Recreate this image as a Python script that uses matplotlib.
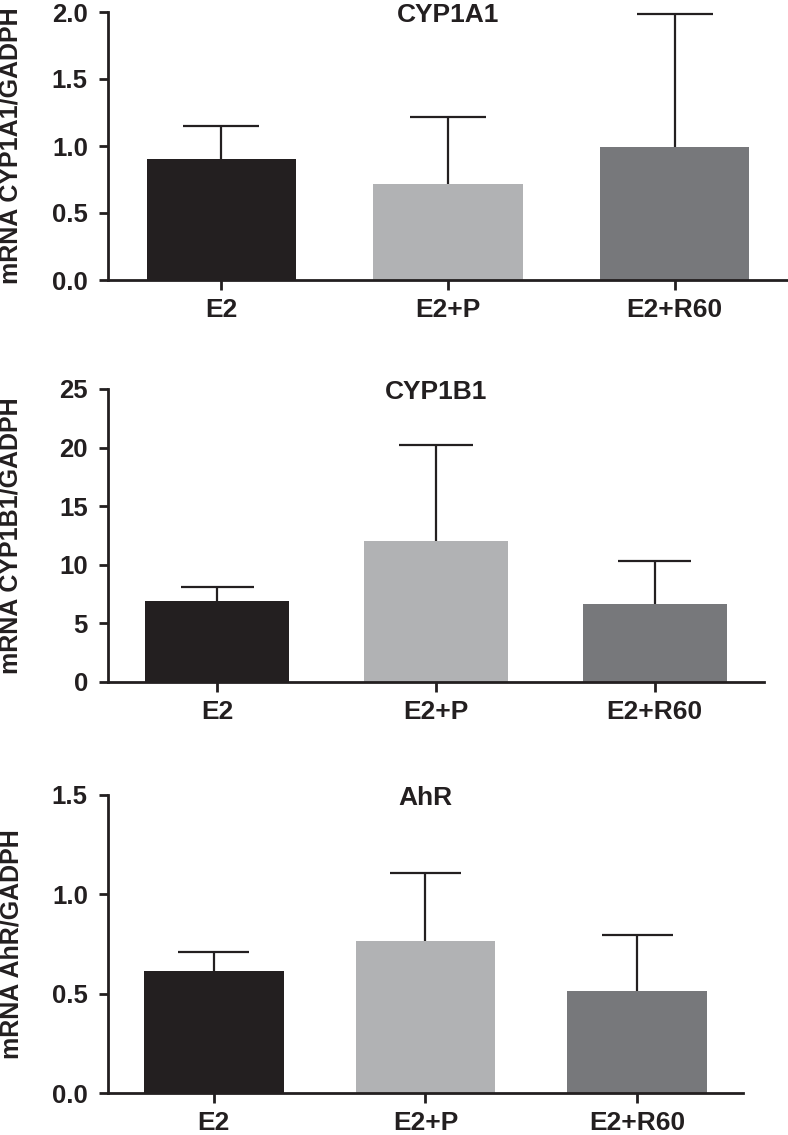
import matplotlib
matplotlib.use("Agg")
import matplotlib.pyplot as plt
import numpy as np

plt.rcParams['font.family'] = ['Liberation Sans', 'DejaVu Sans']
plt.rcParams['font.weight'] = 'bold'

groups = ["E2", "E2+P", "E2+R60"]
bar_colors = ["#231f20", "#b1b2b4", "#77787b"]
ink = "#231f20"

titles = ["CYP1A1", "CYP1B1", "AhR"]
ylabels = ["mRNA CYP1A1/GADPH", "mRNA CYP1B1/GADPH", "mRNA AhR/GADPH"]

cyp1a1_mean = [0.90, 0.72, 0.995]
cyp1a1_err = [0.25, 0.50, 0.99]
cyp1b1_mean = [6.92, 12.0, 6.64]
cyp1b1_err = [1.18, 8.2, 3.66]
ahr_mean = [0.616, 0.767, 0.514]
ahr_err = [0.094, 0.342, 0.282]

ylims = [(0, 2.0), (0, 25), (0, 1.5)]
yticks = [[0.0, 0.5, 1.0, 1.5, 2.0], [0, 5, 10, 15, 20, 25], [0.0, 0.5, 1.0, 1.5]]
yfmt = ["{:.1f}", "{:.0f}", "{:.1f}"]

means = [cyp1a1_mean, cyp1b1_mean, ahr_mean]
errs = [cyp1a1_err, cyp1b1_err, ahr_err]

W, H = 788, 1135
# axes boxes in pixels: left, top, right, bottom
boxes = [(108, 12, 788, 280), (108, 389, 764, 681.7), (108, 795, 743, 1093.3)]
bar_w = 0.66
cap_half = 0.167

fig = plt.figure(figsize=(W / 100, H / 100), dpi=100)
x = np.arange(len(groups))

for i in range(3):
    l, t, r, b = boxes[i]
    ax = fig.add_axes([l / W, 1 - b / H, (r - l) / W, (b - t) / H])
    m = np.array(means[i])
    top = m + np.array(errs[i])
    ax.bar(x, m, width=bar_w, color=bar_colors, edgecolor="none", zorder=2)
    # upper-only error bars (SEM)
    ax.vlines(x, m, top, color=ink, lw=1.6, zorder=1)
    ax.hlines(top, x - cap_half, x + cap_half, color=ink, lw=1.6, zorder=1)
    ax.set_xlim(-0.5, 2.5)
    ax.set_ylim(*ylims[i])
    ax.set_yticks(yticks[i])
    ax.set_yticklabels([yfmt[i].format(v) for v in yticks[i]])
    ax.set_xticks(x)
    ax.set_xticklabels(groups)
    for s in ["top", "right"]:
        ax.spines[s].set_visible(False)
    for s in ["left", "bottom"]:
        ax.spines[s].set_linewidth(2.0)
        ax.spines[s].set_color(ink)
        ax.spines[s].set_zorder(3)
    ax.tick_params(axis="y", length=6.5, width=2.0, color=ink, labelsize=18.5, pad=8, labelcolor=ink)
    ax.tick_params(axis="x", length=7, width=2.0, color=ink, labelsize=19, pad=6, labelcolor=ink)
    ax.set_ylabel(ylabels[i], fontsize=18, fontweight="bold", color=ink)
    ax.yaxis.set_label_coords((23 - l) / (r - l), 0.5)
    ax.text(0.5, 0.99, titles[i], transform=ax.transAxes, ha="center", va="center",
            fontsize=19, fontweight="bold", color=ink)

fig.savefig("out.png", dpi=100)
